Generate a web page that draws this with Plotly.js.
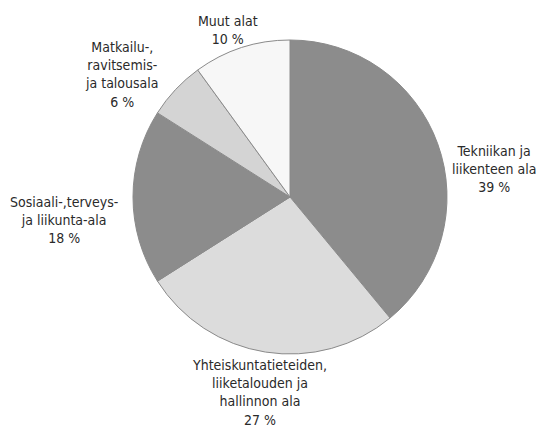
<!DOCTYPE html>
<html>
<head>
<meta charset="utf-8">
<script src="https://cdn.plot.ly/plotly-3.0.1.min.js"></script>
<style>html,body{margin:0;padding:0;background:#fff;}#chart{width:541px;height:430px;}</style>
</head>
<body>
<div id="chart"></div>
<script>
const categories = [
  "Tekniikan ja<br>liikenteen ala",
  "Yhteiskuntatieteiden,<br>liiketalouden ja<br>hallinnon ala",
  "Sosiaali-,terveys-<br>ja liikunta-ala",
  "Matkailu-,<br>ravitsemis-<br>ja talousala",
  "Muut alat"
];
const values = [39, 27, 18, 6, 10];
const sliceColors = ["#8c8c8c", "#dcdcdc", "#8c8c8c", "#d4d4d4", "#f7f7f7"];
// label anchor positions in pixels (layout only)
const labelPos = [[494, 169], [259, 392], [64, 220], [122, 75], [228, 30]];

const W = 541, H = 430;
const font = {family: "Liberation Sans Narrow, DejaVu Sans Condensed, Arial Narrow, sans-serif", size: 14, color: "#2a2a2a"};

const annotations = categories.map((c, i) => ({
  text: c + "<br>" + values[i] + " %",
  xref: "paper", yref: "paper",
  x: labelPos[i][0] / W, y: 1 - labelPos[i][1] / H,
  xanchor: "center", yanchor: "middle",
  showarrow: false, align: "center", font: font
}));

const trace = {
  type: "pie",
  labels: categories,
  values: values,
  sort: false,
  direction: "clockwise",
  rotation: 0,
  textinfo: "none",
  hoverinfo: "label+percent",
  marker: {colors: sliceColors, line: {color: "#8a8a8a", width: 1}},
  domain: {x: [133 / W, 447 / W], y: [1 - 354 / H, 1 - 40 / H]},
  showlegend: false
};

Plotly.newPlot("chart", [trace], {
  width: W, height: H,
  margin: {l: 0, r: 0, t: 0, b: 0},
  paper_bgcolor: "#ffffff",
  showlegend: false,
  annotations: annotations,
  font: font
}, {staticPlot: true});
</script>
</body>
</html>
